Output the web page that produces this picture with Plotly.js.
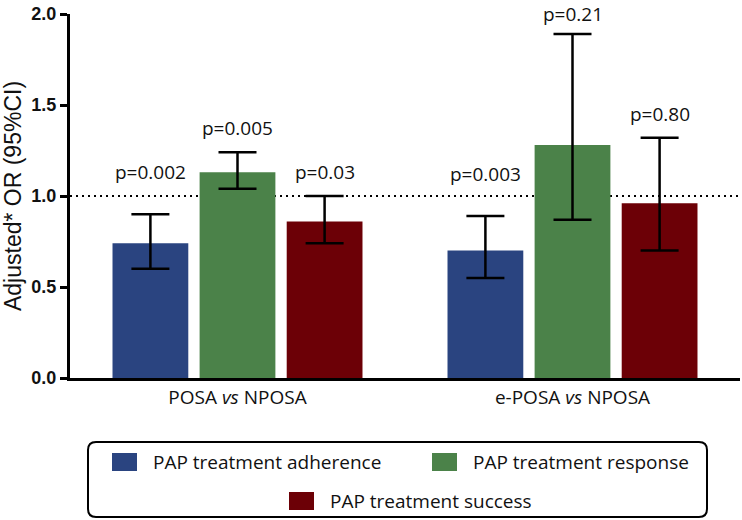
<!DOCTYPE html>
<html><head><meta charset="utf-8">
<script src="https://cdn.plot.ly/plotly-3.0.1.min.js"></script>
<style>html,body{margin:0;padding:0;background:#fff}#chart{width:742px;height:520px}</style>
</head><body><div id="chart"></div>
<script>
// ---- data ----
const categories = ['POSA vs NPOSA', 'e-POSA vs NPOSA'];
const seriesNames = ['PAP treatment adherence', 'PAP treatment response', 'PAP treatment success'];
const adherenceOR = [0.74, 0.70];
const adherenceLow = [0.60, 0.55];
const adherenceHigh = [0.90, 0.89];
const responseOR = [1.13, 1.28];
const responseLow = [1.04, 0.87];
const responseHigh = [1.24, 1.89];
const successOR = [0.86, 0.96];
const successLow = [0.74, 0.70];
const successHigh = [1.00, 1.32];
const adherenceP = ['p=0.002', 'p=0.003'];
const responseP = ['p=0.005', 'p=0.21'];
const successP = ['p=0.03', 'p=0.80'];
const yTickVals = [0, 0.5, 1.0, 1.5, 2.0];
const yTickText = ['0.0', '0.5', '1.0', '1.5', '2.0'];
const referenceOR = 1.0;

// ---- styles ----
const colors = ['#2a4480', '#4b8249', '#6c0006'];
const W = 742, H = 520;
const M = {l: 70, r: 2, t: 14, b: 142};
const PW = W - M.l - M.r, PH = H - M.t - M.b;
const YMAX = 2.0;
const px = x => (x - M.l) / PW;
const py = y => (H - M.b - y) / PH;
const BARGAP = 0.22;
const slot = (1 - BARGAP) / 3;

const series = [
  {name: seriesNames[0], v: adherenceOR, lo: adherenceLow, hi: adherenceHigh, p: adherenceP},
  {name: seriesNames[1], v: responseOR, lo: responseLow, hi: responseHigh, p: responseP},
  {name: seriesNames[2], v: successOR, lo: successLow, hi: successHigh, p: successP}
];

const traces = series.map((s, j) => ({
  type: 'bar',
  name: s.name,
  x: categories,
  y: s.v,
  marker: {color: colors[j], line: {width: 0}},
  error_y: {
    type: 'data', symmetric: false,
    array: s.v.map((v, i) => s.hi[i] - v),
    arrayminus: s.v.map((v, i) => v - s.lo[i]),
    color: '#000', thickness: 2.5, width: 19
  },
  showlegend: false,
  hoverinfo: 'skip'
}));

const annotations = [];
series.forEach((s, j) => {
  s.p.forEach((t, i) => {
    let shift = j === 0 ? 42 : 24;
    const pixCenter = M.t + (YMAX - s.hi[i]) / YMAX * PH - shift;
    if (pixCenter < 14) shift -= (14 - pixCenter);
    annotations.push({
      x: i + (j - 1) * slot, y: s.hi[i], xref: 'x', yref: 'y',
      text: t, showarrow: false, xanchor: 'center', yanchor: 'middle',
      yshift: shift,
      font: {family: 'Open Sans', size: 19, color: '#111'}
    });
  });
});

// ---- reference line + manual legend ----
const shapes = [{
  type: 'line', xref: 'paper', x0: 0, x1: 1, yref: 'y', y0: referenceOR, y1: referenceOR,
  line: {color: '#000', width: 2, dash: '2px,4px'}, layer: 'below'
}];
const bx0 = px(88), bx1 = px(707), by1 = py(442), by0 = py(517);
const rx = 8 / PW, ry = 8 / PH;
shapes.push({
  type: 'path', xref: 'paper', yref: 'paper',
  path: `M${bx0+rx},${by1} L${bx1-rx},${by1} Q${bx1},${by1} ${bx1},${by1-ry} L${bx1},${by0+ry} Q${bx1},${by0} ${bx1-rx},${by0} L${bx0+rx},${by0} Q${bx0},${by0} ${bx0},${by0+ry} L${bx0},${by1-ry} Q${bx0},${by1} ${bx0+rx},${by1} Z`,
  line: {color: '#000', width: 2}
});
const legendPos = [{sx: 112, sy: 453}, {sx: 432, sy: 453}, {sx: 289, sy: 492}];
legendPos.forEach((p, j) => {
  shapes.push({
    type: 'rect', xref: 'paper', yref: 'paper',
    x0: px(p.sx), x1: px(p.sx + 25), y0: py(p.sy + 18), y1: py(p.sy),
    fillcolor: colors[j], line: {width: 0}
  });
  annotations.push({
    xref: 'paper', yref: 'paper', x: px(p.sx + 39), y: py(p.sy + 9),
    text: seriesNames[j], showarrow: false, xanchor: 'left', yanchor: 'middle',
    font: {family: 'Open Sans', size: 19, color: '#111'}
  });
});

const layout = {
  width: W, height: H,
  margin: M,
  paper_bgcolor: '#fff', plot_bgcolor: '#fff',
  barmode: 'group', bargap: BARGAP, bargroupgap: 0.13,
  showlegend: false,
  xaxis: {
    type: 'category', range: [-0.5, 1.5],
    tickvals: categories,
    ticktext: categories.map(c => c.replace(' vs ', ' <i>vs</i> ')),
    showline: true, linewidth: 3, linecolor: '#000',
    ticks: '', showgrid: false, zeroline: false,
    tickfont: {family: 'Open Sans', size: 19, color: '#111'},
    fixedrange: true
  },
  yaxis: {
    range: [0, YMAX], tickvals: yTickVals, ticktext: yTickText,
    showline: true, linewidth: 3, linecolor: '#000',
    ticks: 'outside', ticklen: 7, tickwidth: 3, tickcolor: '#000',
    showgrid: false, zeroline: false,
    tickfont: {family: 'Liberation Sans', size: 18, color: '#111', weight: 'bold'},
    title: {text: 'Adjusted* OR (95%CI)', font: {family: 'Liberation Sans', size: 23, color: '#111'}, standoff: 8},
    fixedrange: true
  },
  shapes: shapes,
  annotations: annotations
};

Plotly.newPlot('chart', traces, layout, {displayModeBar: false, staticPlot: true});
</script>
</body></html>
